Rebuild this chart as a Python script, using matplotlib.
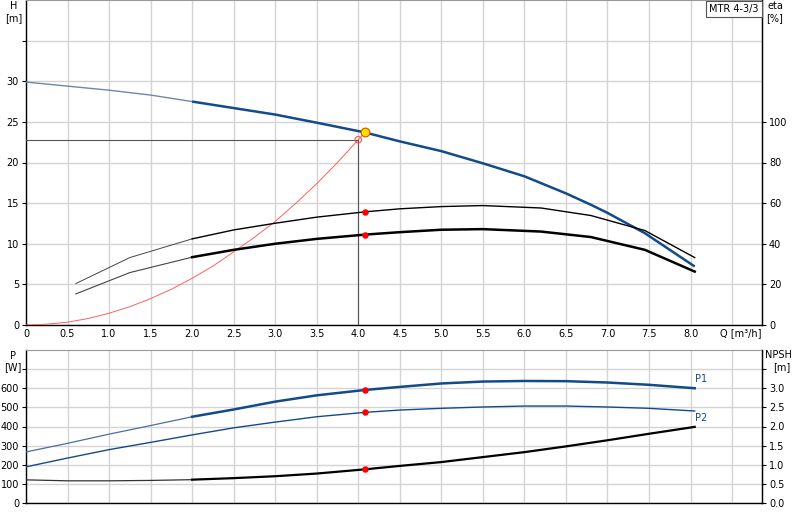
import matplotlib
matplotlib.use("Agg")
import matplotlib.pyplot as plt
import numpy as np

plt.rcParams['font.family'] = ['DejaVu Sans']
plt.rcParams['font.size'] = 7

# ---------------- data ----------------
h_q = [0, 0.5, 1.0, 1.5, 2.0, 2.5, 3.0, 3.5, 4.08, 4.5, 5.0, 5.5, 6.0, 6.5, 6.8, 7.0, 7.45, 8.05]
h_val = [29.9, 29.4, 28.9, 28.3, 27.5, 26.7, 25.9, 24.9, 23.7, 22.6, 21.4, 19.9, 18.3, 16.2, 14.8, 13.8, 11.3, 7.2]

sys_q = [0, 0.25, 0.5, 0.75, 1.0, 1.25, 1.5, 1.75, 2.0, 2.25, 2.5, 2.75, 3.0, 3.25, 3.5, 3.75, 4.0, 4.08]
sys_h = [0, 0.1, 0.35, 0.8, 1.45, 2.25, 3.25, 4.4, 5.75, 7.25, 9.0, 10.8, 12.75, 15.0, 17.4, 20.0, 22.8, 23.7]

eta_q = [0.6, 1.25, 2.0, 2.5, 3.0, 3.5, 4.08, 4.5, 5.0, 5.5, 6.2, 6.8, 7.45, 8.05]
eta_upper = [20.4, 33.2, 42.4, 46.8, 50.1, 53.1, 55.7, 57.2, 58.3, 58.8, 57.6, 53.9, 46.5, 33.2]
eta_lower = [15.3, 25.8, 33.4, 37.0, 40.0, 42.4, 44.5, 45.7, 46.9, 47.2, 46.0, 43.3, 37.0, 26.3]

p_q = [0, 0.5, 1.0, 1.5, 2.0, 2.5, 3.0, 3.5, 4.08, 4.5, 5.0, 5.5, 6.0, 6.5, 7.0, 7.5, 8.05]
p1 = [267, 312, 360, 405, 451, 489, 530, 563, 591, 607, 625, 635, 638, 637, 630, 618, 600]
p2 = [189, 235, 279, 317, 356, 393, 423, 451, 474, 486, 495, 502, 507, 507, 502, 495, 481]
npsh = [0.605, 0.58, 0.58, 0.59, 0.61, 0.65, 0.70, 0.77, 0.88, 0.97, 1.07, 1.20, 1.33, 1.48, 1.64, 1.81, 1.99]

op_q, op_h = 4.08, 23.7
duty_q, duty_h = 4.0, 22.8
op_eta = [55.7, 44.5]
op_p = [591, 474]
op_npsh = 0.88

x_ticks = [0, 0.5, 1.0, 1.5, 2.0, 2.5, 3.0, 3.5, 4.0, 4.5, 5.0, 5.5, 6.0, 6.5, 7.0, 7.5, 8.0, 8.5]
x_labels = ['0', '0.5', '1.0', '1.5', '2.0', '2.5', '3.0', '3.5', '4.0', '4.5', '5.0', '5.5',
            '6.0', '6.5', '7.0', '7.5', '8.0', '']
q_axis_label = 'Q [m³/h]'
h_ticks = [0, 5, 10, 15, 20, 25, 30, 35]
h_labels = ['0', '5', '10', '15', '20', '25', '30', '']
eta_ticks = [0, 20, 40, 60, 80, 100]
p_ticks = [0, 100, 200, 300, 400, 500, 600, 700]
p_labels = ['0', '100', '200', '300', '400', '500', '600', '']
n_ticks = [0, 0.5, 1.0, 1.5, 2.0, 2.5, 3.0, 3.5]
n_labels = ['0.0', '0.5', '1.0', '1.5', '2.0', '2.5', '3.0', '']

BLUE = '#134b8a'
GRID = '#d4d4d4'


def split(q, v, q0=2.0):
    q = np.asarray(q, float); v = np.asarray(v, float)
    i = int(np.searchsorted(q, q0))
    return (q[:i + 1], v[:i + 1]), (q[i:], v[i:])


fig = plt.figure(figsize=(8, 5.2), dpi=100)
ax = fig.add_axes([26 / 800, 1 - 325 / 520, 736 / 800, 325 / 520])
ax2 = ax.twinx()
bx = fig.add_axes([26 / 800, 1 - 503 / 520, 736 / 800, 153 / 520])
bx2 = bx.twinx()

XMAX = 8.86
for a in (ax, bx):
    a.set_xlim(0, XMAX)
    a.set_xticks(x_ticks)
    a.grid(True, color=GRID, lw=1.0)
    a.set_axisbelow(True)
    a.tick_params(length=3, width=0.8, pad=2, colors='black')
    a.spines['top'].set_color('#999999')
    for s in ('left', 'right', 'bottom'):
        a.spines[s].set_color('black')
        a.spines[s].set_linewidth(1.0)

ax.set_xticklabels(x_labels)
bx.set_xticklabels([''] * len(x_ticks))
bx.tick_params(axis='x', length=0)
ax.tick_params(axis='x', length=0, pad=3)
ax.text(8.61, -0.0095, q_axis_label, transform=ax.get_xaxis_transform(),
        ha='center', va='top', fontsize=7)

ax.set_ylim(0, 40)
ax.set_yticks(h_ticks)
ax.set_yticklabels(h_labels)
ax2.set_ylim(0, 160)
ax2.set_yticks(eta_ticks)
ax2.tick_params(length=3, width=0.8, pad=2)
for s in ax2.spines.values():
    s.set_visible(False)
ax2.spines['right'].set_visible(True)
ax2.spines['right'].set_color('black')

bx.set_ylim(0, 800)
bx.set_yticks(p_ticks)
bx.set_yticklabels(p_labels)
bx2.set_ylim(0, 4)
bx2.set_yticks(n_ticks)
bx2.set_yticklabels(n_labels)
bx2.tick_params(length=3, width=0.8, pad=2)
for s in bx2.spines.values():
    s.set_visible(False)
bx2.spines['right'].set_visible(True)
bx2.spines['right'].set_color('black')

# ---- top: H curve ----
(a1, b1), (a2, b2) = split(h_q, h_val)
ax.plot(a1, b1, color='#6f87a8', lw=1.0, zorder=4)
ax.plot(a2, b2, color=BLUE, lw=1.8, zorder=4, solid_capstyle='butt')

# system curve
ax.plot(sys_q, sys_h, color='#ff6060', lw=0.7, zorder=3)
# duty lines
ax.plot([0, duty_q], [duty_h, duty_h], color='#555555', lw=0.8, zorder=3)
ax.plot([duty_q, duty_q], [0, duty_h], color='#555555', lw=0.8, zorder=3)

# eta curves
(a1, b1), (a2, b2) = split(eta_q, eta_upper)
ax2.plot(a1, b1, color='#444444', lw=0.7, zorder=4)
ax2.plot(a2, b2, color='black', lw=1.0, zorder=4)
(a1, b1), (a2, b2) = split(eta_q, eta_lower)
ax2.plot(a1, b1, color='#444444', lw=0.8, zorder=4)
ax2.plot(a2, b2, color='black', lw=1.8, zorder=4)
ax2.scatter([op_q, op_q], op_eta, s=22, color='red', zorder=6, linewidths=0)

ax2.scatter([duty_q], [duty_h * 4], s=22, facecolors='none', edgecolors='#ff5050', linewidths=0.8, zorder=6)
ax2.scatter([op_q], [op_h * 4], s=40, color='#ffe000', edgecolors='#e05000', linewidths=0.8, zorder=7)

# labels
fig.text(14 / 800, 1 - 6 / 520, 'H', ha='center', va='center', fontsize=7)
fig.text(14 / 800, 1 - 18 / 520, '[m]', ha='center', va='center', fontsize=7)
fig.text(775 / 800, 1 - 6 / 520, 'eta', ha='center', va='center', fontsize=7)
fig.text(775 / 800, 1 - 18 / 520, '[%]', ha='center', va='center', fontsize=7)
fig.text(734 / 800, 1 - 9 / 520, 'MTR 4-3/3', ha='center', va='center', fontsize=7,
         bbox=dict(boxstyle='square,pad=0.35', fc='white', ec='#555555', lw=0.8))

# ---- bottom ----
(a1, b1), (a2, b2) = split(p_q, p1)
bx.plot(a1, b1, color='#4d6f9a', lw=0.9, zorder=4)
bx.plot(a2, b2, color=BLUE, lw=1.8, zorder=4)
bx.plot(p_q, p2, color=BLUE, lw=1.0, zorder=4)
bx.scatter([op_q, op_q], op_p, s=22, color='red', zorder=6, linewidths=0)

(a1, b1), (a2, b2) = split(p_q, npsh)
bx2.plot(a1, b1, color='#333333', lw=0.9, zorder=4)
bx2.plot(a2, b2, color='black', lw=1.6, zorder=4)
bx2.scatter([op_q], [op_npsh], s=22, color='red', zorder=6, linewidths=0)

bx.text(p_q[-1], p1[-1] + 22, 'P1', color=BLUE, fontsize=7, ha='left', va='bottom')
bx.text(p_q[-1], p2[-1] - 12, 'P2', color=BLUE, fontsize=7, ha='left', va='top')

fig.text(13 / 800, 1 - 356 / 520, 'P', ha='center', va='center', fontsize=7)
fig.text(13 / 800, 1 - 367 / 520, '[W]', ha='center', va='center', fontsize=7)
fig.text(778 / 800, 1 - 355 / 520, 'NPSH', ha='center', va='center', fontsize=7)
fig.text(782 / 800, 1 - 367 / 520, '[m]', ha='center', va='center', fontsize=7)

fig.savefig('out.png', dpi=100)
